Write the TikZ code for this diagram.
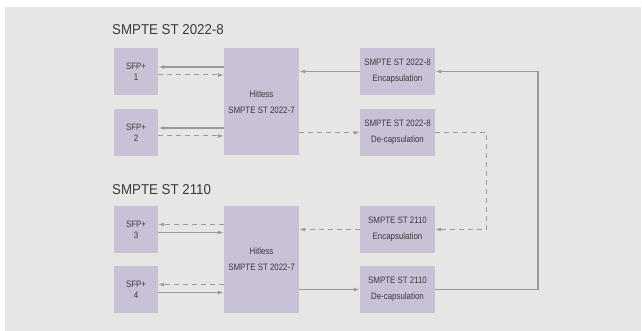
\documentclass[tikz,border=0pt]{standalone}
\usepackage{fontspec}
\setmainfont[FakeStretch=0.85]{Liberation Sans}
\newfontfamily\headfont[FakeStretch=0.93]{Liberation Sans}
\usepackage{xcolor}
\usepackage{tikz}
\usetikzlibrary{arrows.meta}
\definecolor{panel}{HTML}{E6E6E4}
\definecolor{boxfill}{HTML}{C9C1D6}
\definecolor{wiregrey}{HTML}{9A9A9A}
\definecolor{ink}{HTML}{3A3A3A}

\begin{document}
\begin{tikzpicture}[x=1pt,y=-1pt,
  blk/.style={fill=boxfill,text=ink,inner sep=0pt,align=center,font=\fontsize{9.3}{16}\selectfont},
  sfp/.style={blk,minimum width=44pt,minimum height=47pt,font=\fontsize{9.3}{11}\selectfont},
  hit/.style={blk,minimum width=75pt,minimum height=107pt},
  enc/.style={blk,minimum width=75pt,minimum height=47pt},
  heading/.style={anchor=base west,text=ink,inner sep=0pt,font=\headfont\fontsize{14.3}{17}\selectfont},
  link/.style={draw=wiregrey,line width=1.4pt,-{Latex[length=6pt,width=4pt]}},
  dlink/.style={link,line width=1pt,dash pattern=on 5pt off 4pt}]
\useasboundingbox (0,0) rectangle (642,331);
\fill[panel] (5,7) rectangle (641,331);
% SMPTE ST 2022-8
\node[heading] (t1) at (112,35) {SMPTE ST 2022-8};
\node[sfp] (sfp1) at (136,71.5) {SFP+\\1};
\node[sfp] (sfp2) at (136,132.5) {SFP+\\2};
\node[hit] (hit1) at (261.5,102) {Hitless\\SMPTE ST 2022-7};
\node[enc] (enc1) at (397.5,71.5) {SMPTE ST 2022-8\\Encapsulation};
\node[enc] (dec1) at (397.5,132.5) {SMPTE ST 2022-8\\De-capsulation};
% SMPTE ST 2110
\node[heading] (t2) at (112,194) {SMPTE ST 2110};
\node[sfp] (sfp3) at (136,229.5) {SFP+\\3};
\node[sfp] (sfp4) at (136,289.5) {SFP+\\4};
\node[hit] (hit2) at (261.5,259.5) {Hitless\\SMPTE ST 2022-7};
\node[enc] (enc2) at (397.5,229.5) {SMPTE ST 2110\\Encapsulation};
\node[enc] (dec2) at (397.5,289.5) {SMPTE ST 2110\\De-capsulation};
\coordinate (loopA) at (538,0);
\coordinate (loopB) at (486.5,0);
\draw [link] ([yshift=4.5pt]sfp1.east -| hit1.west) -- ([yshift=4.5pt]sfp1.east);
\draw [dlink] ([yshift=-3.5pt]sfp1.east) -- ([yshift=-3.5pt]sfp1.east -| hit1.west);
\draw [link] ([yshift=4.5pt]sfp2.east -| hit1.west) -- ([yshift=4.5pt]sfp2.east);
\draw [dlink] ([yshift=-3.5pt]sfp2.east) -- ([yshift=-3.5pt]sfp2.east -| hit1.west);
\draw [link] (enc1.west) -- (enc1.west -| hit1.east);
\draw [dlink] (dec1.west -| hit1.east) -- (dec1.west);
\draw [dlink] (dec1.east) -| (loopB |- enc2.east) -- (enc2.east);
\draw [dlink] (enc2.west) -- (enc2.west -| hit2.east);
\draw [dlink] ([yshift=5pt]sfp3.east -| hit2.west) -- ([yshift=5pt]sfp3.east);
\draw [link] ([yshift=-3pt]sfp3.east) -- ([yshift=-3pt]sfp3.east -| hit2.west);
\draw [dlink] ([yshift=5pt]sfp4.east -| hit2.west) -- ([yshift=5pt]sfp4.east);
\draw [link] ([yshift=-3pt]sfp4.east) -- ([yshift=-3pt]sfp4.east -| hit2.west);
\draw [link] (dec2.west -| hit2.east) -- (dec2.west);
\draw [link] (dec2.east) -| (loopA |- enc1.east) -- (enc1.east);
\end{tikzpicture}
\end{document}
